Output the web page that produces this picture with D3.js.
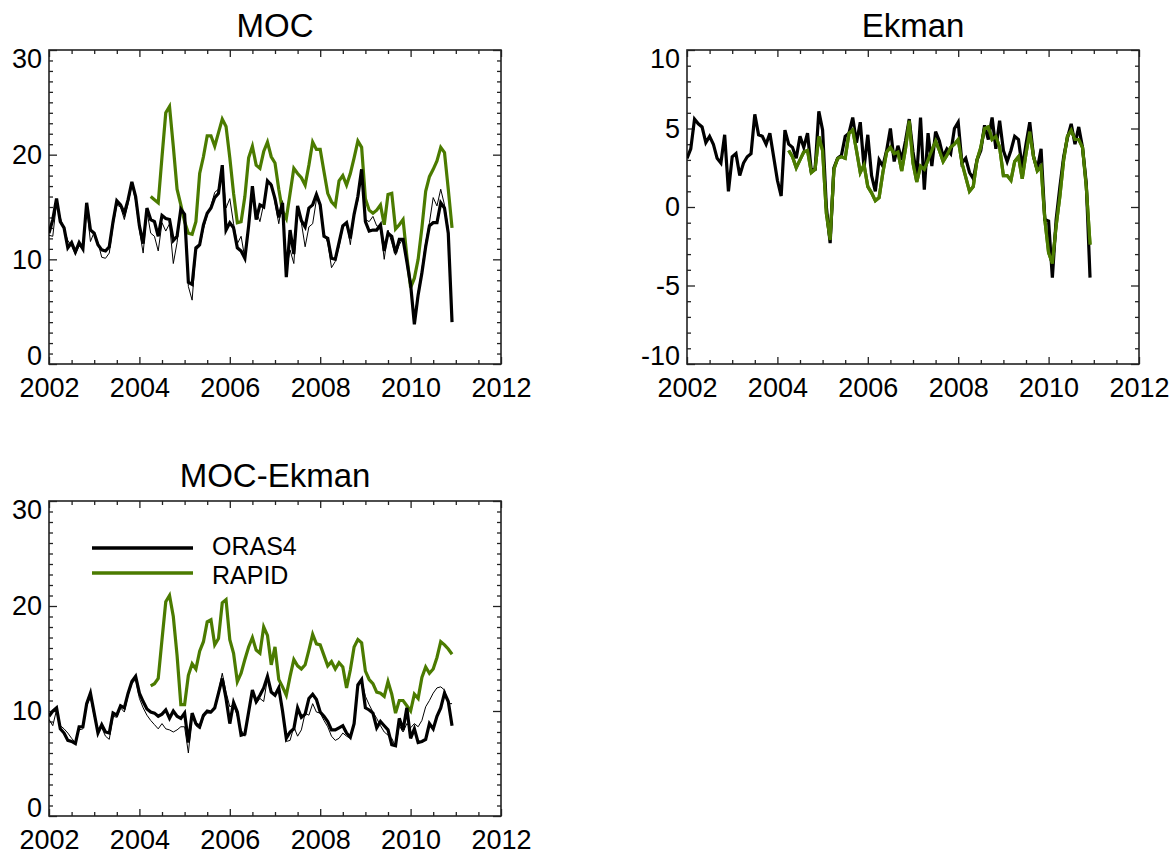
<!DOCTYPE html>
<html>
<head>
<meta charset="utf-8">
<script src="https://cdn.jsdelivr.net/npm/d3@7"></script>
<style>
  html, body { margin: 0; padding: 0; background: #fff; }
  svg { display: block; font-family: "Liberation Sans", Arial, Helvetica, sans-serif; }
</style>
</head>
<body>
<svg id="chart" width="1173" height="855"></svg>
<script>
// Monthly series, January 2002 to December 2010 (108 months).
const firstYear = 2002;
// RAPID record begins April 2004 (month index 27).
const rapidFirstMonth = 27;

const yearTicks = [2002, 2004, 2006, 2008, 2010, 2012];
const mocTicks = [0, 10, 20, 30];
const ekmanTicks = [-10, -5, 0, 5, 10];

const seriesNames = ["ORAS4", "RAPID"];

// MOC (Sv)
const mocOras4 = [
  12.5, 13.8, 15.8, 13.6, 13.0, 11.1, 11.6, 10.7, 11.6, 11.0, 15.4, 12.8,
  12.5, 11.4, 10.9, 10.8, 11.2, 13.6, 15.6, 15.2, 14.4, 15.7, 17.4, 16.0,
  13.2, 11.5, 14.9, 13.8, 13.6, 12.2, 14.2, 13.9, 13.8, 11.8, 12.2, 14.8,
  14.3, 7.8, 7.6, 11.1, 11.4, 13.3, 14.4, 14.9, 15.9, 16.3, 19.0, 12.8,
  13.5, 13.0, 11.1, 10.8, 10.1, 13.2, 17.0, 13.8, 15.2, 15.0, 17.5, 17.1,
  15.8, 14.0, 15.4, 8.3, 12.8, 10.5, 15.1, 13.7, 13.1, 14.9, 15.2, 16.2,
  15.2, 12.2, 12.0, 10.1, 10.0, 11.6, 13.2, 13.5, 12.0, 14.3, 16.0, 18.6,
  13.6, 12.7, 12.8, 12.8, 13.3, 10.8, 12.5, 12.2, 10.6, 11.9, 11.9, 9.8,
  7.6, 3.8, 6.6, 8.7, 11.2, 13.2, 13.5, 13.5, 15.4, 14.9, 12.5, 4.0
];
const mocOras4Alt = [
  12.3, 12.2, 15.4, 14.0, 12.8, 11.8, 11.3, 10.5, 11.3, 11.0, 15.0, 11.7,
  12.6, 11.6, 10.2, 10.1, 10.6, 13.2, 15.2, 15.0, 13.8, 15.3, 17.2, 15.6,
  12.8, 10.6, 14.6, 12.5, 12.2, 10.8, 13.5, 12.7, 13.4, 9.6, 11.6, 14.9,
  14.0, 7.4, 6.1, 10.9, 11.2, 12.9, 14.2, 15.1, 16.4, 16.7, 18.8, 14.9,
  15.8, 13.4, 11.5, 12.2, 10.1, 13.0, 16.6, 14.6, 13.6, 15.3, 17.2, 17.3,
  15.4, 13.4, 15.6, 9.0, 10.9, 9.6, 15.0, 13.5, 11.2, 13.1, 13.4, 15.7,
  15.4, 12.5, 11.6, 9.2, 9.8, 11.2, 13.0, 13.6, 11.4, 14.3, 15.6, 18.4,
  13.8, 13.6, 14.1, 13.2, 13.1, 10.0, 12.8, 11.6, 10.4, 11.4, 12.0, 10.0,
  7.8, 4.1, 6.9, 9.1, 11.6, 13.5, 15.9, 15.1, 16.7, 15.2, 12.9, 4.3
];
const mocRapid = [
  16.0, 15.7, 15.4, 19.8, 24.0, 24.6, 20.8, 16.7, 15.2,
  13.6, 12.5, 12.4, 13.6, 18.2, 19.8, 21.8, 21.8, 20.8, 22.1, 23.4, 22.7,
  19.7, 16.3, 13.5, 13.6, 16.0, 19.7, 20.8, 19.0, 18.7, 20.3, 21.2, 19.8,
  19.2, 16.7, 14.6, 13.9, 16.3, 18.7, 18.2, 17.8, 17.1, 19.0, 21.2, 20.5,
  20.5, 18.4, 16.3, 15.5, 15.1, 17.5, 18.0, 17.1, 18.2, 19.7, 21.3, 20.7,
  15.8, 14.7, 14.4, 14.7, 15.2, 13.3, 16.2, 16.3, 12.9, 13.3, 13.8, 10.3,
  7.3, 8.2, 10.0, 13.0, 16.5, 17.9, 18.6, 19.4, 20.7, 20.2, 16.7, 13.0
];

// Ekman transport (Sv)
const ekmanOras4 = [
  3.1, 3.7, 5.6, 5.3, 5.1, 4.1, 4.5, 4.0, 3.1, 2.8, 4.6, 1.0,
  3.2, 3.4, 2.0, 2.8, 3.2, 3.4, 5.9, 4.6, 4.5, 4.0, 4.7, 3.2,
  1.7, 0.7, 4.9, 4.0, 3.8, 3.1, 4.5, 3.8, 4.7, 2.3, 2.4, 6.1,
  4.9, 0.0, -2.3, 2.5, 3.1, 3.3, 4.5, 4.7, 5.7, 4.1, 5.4, 2.5,
  4.6, 2.0, 1.0, 3.0, 2.6, 3.6, 5.0, 2.9, 3.9, 3.0, 4.2, 5.6,
  3.5, 2.0, 5.7, 1.1, 4.7, 2.6, 4.8, 4.2, 3.2, 3.7, 3.4, 5.0,
  5.4, 2.8, 3.1, 2.2, 1.8, 3.0, 3.6, 5.2, 4.3, 5.7, 3.7, 5.5,
  3.6, 2.9, 3.6, 4.5, 4.3, 2.5, 4.0, 5.4, 3.2, 2.4, 3.7, -0.8,
  -0.9, -4.5, -0.8, 1.3, 3.2, 4.4, 5.3, 4.0, 5.1, 3.8, 1.5, -4.5
];
const ekmanRapid = [
  3.6, 3.2, 2.5, 3.0, 3.5, 3.6, 2.2, 2.4, 4.5,
  3.6, -0.4, -2.1, 2.4, 3.1, 3.2, 3.1, 4.7, 4.9, 3.6, 2.2, 2.7,
  1.3, 0.9, 0.4, 0.6, 2.2, 3.5, 3.8, 3.4, 3.5, 2.3, 3.7, 5.5,
  2.8, 1.6, 2.6, 2.4, 3.0, 3.6, 4.2, 3.6, 2.9, 3.3, 3.8, 4.0,
  4.3, 2.8, 1.9, 1.0, 1.3, 3.0, 3.8, 5.0, 5.1, 4.3, 4.5, 3.8,
  2.0, 2.0, 1.7, 2.9, 3.2, 1.8, 3.4, 4.8, 3.2, 2.3, 2.6, -0.8,
  -2.9, -3.6, -1.2, 0.7, 3.0, 4.5, 4.9, 4.3, 4.3, 3.8, 1.3, -2.4
];

// MOC minus Ekman (Sv)
const mocEkOras4 = [
  9.5, 10.0, 10.3, 8.3, 7.9, 7.2, 7.1, 6.9, 8.5, 8.5, 10.7, 11.7,
  9.8, 7.9, 8.7, 8.0, 7.9, 9.8, 9.6, 10.5, 10.3, 11.7, 12.8, 13.3,
  11.7, 10.9, 10.2, 9.9, 9.8, 9.5, 9.7, 10.1, 9.3, 10.0, 9.5, 9.3,
  9.8, 7.0, 9.8, 8.8, 8.5, 9.6, 10.0, 9.9, 10.3, 11.7, 13.1, 11.2,
  8.8, 10.8, 9.9, 7.7, 7.8, 9.9, 12.0, 10.9, 11.5, 12.2, 13.3, 11.8,
  11.5, 12.2, 10.0, 7.4, 8.0, 8.3, 10.3, 9.4, 9.7, 11.2, 11.6, 11.1,
  9.9, 9.5, 9.0, 8.2, 8.2, 8.4, 8.6, 7.9, 7.5, 8.8, 12.5, 13.0,
  10.3, 10.1, 9.8, 8.4, 9.0, 8.6, 8.2, 6.8, 6.7, 9.3, 8.2, 10.3,
  7.4, 8.3, 7.0, 7.1, 7.3, 8.8, 8.3, 9.5, 10.3, 11.7, 10.9, 8.6
];
const mocEkOras4Alt = [
  9.2, 8.6, 10.1, 8.6, 8.3, 7.9, 7.4, 7.0, 8.2, 8.3, 10.5, 11.3,
  9.5, 8.0, 8.4, 7.6, 7.3, 9.5, 9.4, 10.3, 9.9, 11.5, 12.6, 13.0,
  11.2, 10.3, 9.6, 9.1, 8.7, 8.3, 8.8, 8.3, 8.2, 8.0, 8.2, 8.5,
  8.5, 6.0, 9.6, 8.6, 8.3, 9.4, 9.8, 9.8, 10.2, 11.9, 13.6, 11.8,
  10.4, 10.6, 9.5, 8.2, 7.6, 9.9, 11.8, 10.7, 11.2, 10.9, 13.1, 11.8,
  11.5, 12.0, 9.9, 7.1, 7.2, 8.5, 7.6, 8.2, 9.8, 9.6, 10.7, 9.9,
  9.8, 9.1, 8.5, 7.6, 7.2, 7.4, 7.9, 7.6, 7.4, 8.6, 12.2, 13.0,
  11.4, 10.6, 9.9, 9.3, 8.6, 8.0, 7.7, 7.4, 6.6, 8.6, 8.0, 8.8,
  8.4, 8.8, 8.5, 9.1, 10.4, 11.0, 11.7, 12.2, 12.3, 12.0, 10.7, 10.7
];
const mocEkRapid = [
  12.4, 12.6, 13.1, 16.8, 20.4, 21.0, 19.0, 15.3, 10.6,
  10.6, 13.4, 14.5, 14.0, 15.7, 16.6, 18.5, 18.7, 16.3, 16.9, 20.3, 20.6,
  16.8, 15.5, 12.8, 13.6, 14.9, 16.1, 17.0, 15.8, 15.5, 18.0, 17.2, 14.4,
  16.1, 13.0, 12.3, 11.5, 13.3, 14.9, 14.3, 14.0, 14.4, 15.8, 17.3, 16.4,
  16.3, 15.3, 14.3, 14.7, 14.0, 14.6, 14.2, 12.2, 13.9, 16.1, 16.8, 16.5,
  13.8, 13.0, 12.6, 11.8, 11.7, 11.4, 12.8, 11.6, 9.8, 11.0, 11.0, 10.5,
  10.0, 11.6, 11.2, 13.2, 14.2, 13.6, 14.0, 15.1, 16.6, 16.3, 15.9, 15.4
];

const colors = { oras4: "#000000", rapid: "#4b7b00", axis: "#222222" };
const labelFont = "Liberation Sans, Arial, sans-serif";

const svg = d3.select("#chart");

// Decimal year of month index i counted from January of firstYear.
const monthTime = i => firstYear + i / 12;
// Plain hyphen for negative tick labels.
const plainNumber = d => String(d);

function panel(opts) {
  const { left, top, width, height, title, domain, majors, minorStep, thin, thick, rapid, titleY } = opts;
  const g = svg.append("g").attr("transform", `translate(${left},${top})`);
  const x = d3.scaleLinear().domain([2002, 2012]).range([0, width]);
  const y = d3.scaleLinear().domain(domain).range([height, 0]);

  const minorY = d3.range(domain[0], domain[1] + 0.001, minorStep).filter(v => !majors.includes(v));
  const minorX = d3.range(2002, 2012.001, 0.5).filter(v => !yearTicks.includes(v));

  // inward tick marks on all four sides
  const tickAxis = (axisFn, scale, values, size, tx, ty) => {
    const a = g.append("g").attr("transform", `translate(${tx},${ty})`)
      .call(axisFn(scale).tickValues(values).tickSize(size).tickFormat(""));
    a.select(".domain").remove();
    a.selectAll(".tick line").attr("stroke", colors.axis).attr("stroke-width", 1.3);
    return a;
  };
  tickAxis(d3.axisLeft, y, majors, -8, 0, 0);
  tickAxis(d3.axisLeft, y, minorY, -4, 0, 0);
  tickAxis(d3.axisRight, y, majors, -8, width, 0);
  tickAxis(d3.axisRight, y, minorY, -4, width, 0);
  tickAxis(d3.axisBottom, x, yearTicks, -7, 0, height);
  tickAxis(d3.axisBottom, x, minorX, -4, 0, height);
  tickAxis(d3.axisTop, x, yearTicks, -7, 0, 0);
  tickAxis(d3.axisTop, x, minorX, -4, 0, 0);

  // tick labels; the end labels sit one minor step inside the frame
  const yl = g.append("g").call(d3.axisLeft(y).tickValues(majors).tickSize(0).tickPadding(7).tickFormat(plainNumber));
  yl.select(".domain").remove();
  yl.selectAll("text").attr("font-size", 27).attr("fill", "#000")
    .attr("font-family", labelFont)
    .attr("dy", d => d === domain[1] ? "0.66em" : d === domain[0] ? "0.0em" : "0.33em");
  const xl = g.append("g").attr("transform", `translate(0,${height})`)
    .call(d3.axisBottom(x).tickValues(yearTicks).tickSize(0).tickPadding(14).tickFormat(plainNumber));
  xl.select(".domain").remove();
  xl.selectAll("text").attr("font-size", 27).attr("fill", "#000")
    .attr("font-family", labelFont);

  // frame
  g.append("rect").attr("width", width).attr("height", height)
    .attr("fill", "none").attr("stroke", colors.axis).attr("stroke-width", 1.6);

  const line = d3.line().x(d => x(d.t)).y(d => y(d.v));
  const toPts = (arr, offset) => arr.map((v, k) => ({ t: monthTime(k + offset), v }));

  const clipId = "clip-" + title.replace(/[^a-z]/gi, "");
  g.append("clipPath").attr("id", clipId).append("rect").attr("width", width).attr("height", height);
  const lines = g.append("g").attr("clip-path", `url(#${clipId})`);

  if (thin) lines.append("path").datum(toPts(thin, 0)).attr("d", line)
    .attr("fill", "none").attr("stroke", colors.oras4).attr("stroke-width", 1).attr("stroke-linejoin", "miter");
  lines.append("path").datum(toPts(rapid, rapidFirstMonth)).attr("d", line)
    .attr("fill", "none").attr("stroke", colors.rapid).attr("stroke-width", 3.2).attr("stroke-linejoin", "miter");
  lines.append("path").datum(toPts(thick, 0)).attr("d", line)
    .attr("fill", "none").attr("stroke", colors.oras4).attr("stroke-width", 3.2).attr("stroke-linejoin", "miter");
  if (opts.rapidOnTop) lines.append("path").datum(toPts(rapid, rapidFirstMonth)).attr("d", line)
    .attr("fill", "none").attr("stroke", colors.rapid).attr("stroke-width", 3.2).attr("stroke-linejoin", "miter");

  svg.append("text").attr("x", left + width / 2).attr("y", titleY)
    .attr("text-anchor", "middle").attr("font-size", 33).attr("fill", "#000")
    .text(title);
  return g;
}

panel({ left: 49, top: 50, width: 452, height: 314, title: "MOC", titleY: 37,
        domain: [0, 30], majors: mocTicks, minorStep: 1,
        thin: mocOras4Alt, thick: mocOras4, rapid: mocRapid });

panel({ left: 687, top: 50, width: 452, height: 314, title: "Ekman", titleY: 37,
        domain: [-10, 10], majors: ekmanTicks, minorStep: 1,
        thin: null, thick: ekmanOras4, rapid: ekmanRapid, rapidOnTop: true });

const p3 = panel({ left: 49, top: 501, width: 452, height: 315, title: "MOC-Ekman", titleY: 487,
        domain: [0, 30], majors: mocTicks, minorStep: 1,
        thin: mocEkOras4Alt, thick: mocEkOras4, rapid: mocEkRapid });

// legend: sample lines with their labels
const legend = p3.append("g");
seriesNames.forEach((name, k) => {
  const yy = 47 + k * 25;
  legend.append("line").attr("x1", 43).attr("x2", 144).attr("y1", yy).attr("y2", yy)
    .attr("stroke", k === 0 ? colors.oras4 : colors.rapid).attr("stroke-width", 3.5);
  legend.append("text").attr("x", 163).attr("y", yy + (k === 0 ? -2 : 2)).attr("dy", "0.36em")
    .attr("font-size", 25).attr("fill", "#000").text(name);
});
</script>
</body>
</html>
